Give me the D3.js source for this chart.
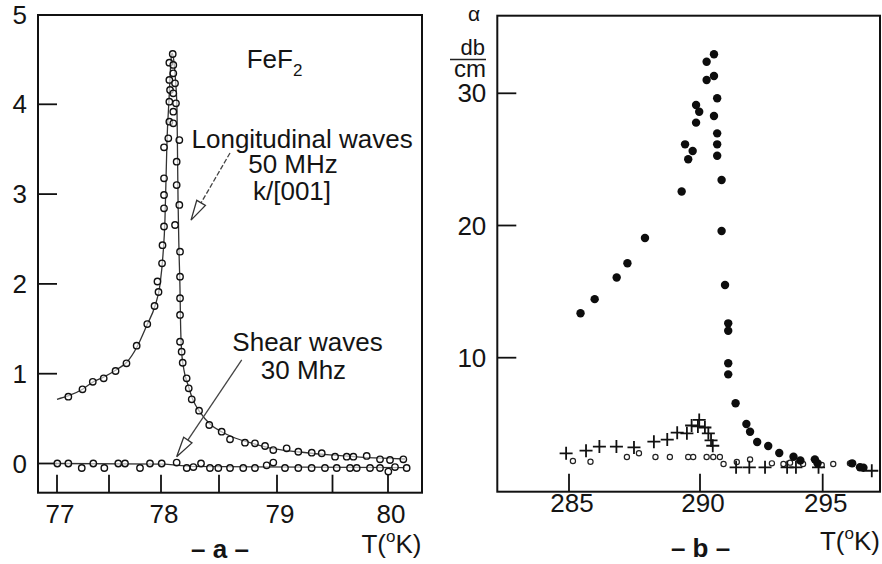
<!DOCTYPE html>
<html>
<head>
<meta charset="utf-8">
<script src="https://cdn.jsdelivr.net/npm/d3@7"></script>
<style>
  body { margin: 0; background: #fff; }
  text { font-family: "Liberation Sans", Arial, sans-serif; fill: #141414; }
</style>
</head>
<body>
<div id="chart"></div>
<script>
// ---- panel a : FeF2 ----
var aTicksX = [77, 78, 79, 80];
var aMinorX = [77.5, 78.5, 79.5];
var aTicksY = [0, 1, 2, 3, 4, 5];

// longitudinal waves, measured points (T, alpha)
var longT = [77.109, 77.245, 77.344, 77.449, 77.563, 77.668, 77.766, 77.868, 77.938, 77.976,
  77.966, 78.009, 78.013, 78.026, 78.026, 78.026, 78.026, 78.026, 78.063, 78.072,
  78.072, 78.078, 78.072, 78.072, 78.101, 78.106, 78.106, 78.121, 78.106, 78.129,
  78.106, 78.106, 78.158, 78.135, 78.135, 78.158, 78.121, 78.164, 78.164, 78.164,
  78.164, 78.164, 78.178, 78.187, 78.221, 78.239, 78.265, 78.328, 78.416, 78.523,
  78.595, 78.724, 78.810, 78.897, 78.968, 79.087, 79.192, 79.313, 79.403, 79.523,
  79.628, 79.688, 79.808, 79.928, 80.018, 80.138];
var longA = [0.744, 0.826, 0.910, 0.949, 1.030, 1.116, 1.312, 1.553, 1.754, 1.910,
  2.027, 2.229, 2.431, 2.639, 2.842, 2.990, 3.176, 3.521, 3.621, 3.806,
  4.029, 4.159, 4.271, 4.463, 4.560, 4.438, 4.345, 4.234, 4.122, 4.011,
  3.918, 3.788, 3.602, 3.361, 3.101, 2.879, 2.656, 2.359, 2.080, 1.840,
  1.654, 1.356, 1.245, 1.122, 0.949, 0.837, 0.715, 0.588, 0.429, 0.354,
  0.269, 0.232, 0.225, 0.195, 0.150, 0.169, 0.131, 0.120, 0.114, 0.076,
  0.076, 0.076, 0.084, 0.047, 0.039, 0.047];

// longitudinal waves, drawn curve
var longFitT = [77.0, 77.106, 77.25, 77.346, 77.452, 77.567, 77.673, 77.769, 77.865, 77.942,
  77.99, 78.017, 78.034, 78.043, 78.052, 78.069, 78.086, 78.095, 78.112, 78.125,
  78.138, 78.142, 78.147, 78.155, 78.164, 78.168, 78.177, 78.198, 78.233, 78.276,
  78.336, 78.422, 78.526, 78.638, 78.81, 78.983, 79.207, 79.477, 79.748, 80.018, 80.153];
var longFitA = [0.715, 0.752, 0.83, 0.908, 0.964, 1.042, 1.13, 1.297, 1.542, 1.754,
  1.988, 2.322, 2.71, 3.157, 3.6, 4.048, 4.49, 4.57, 4.47, 4.27,
  3.94, 3.49, 2.93, 2.38, 1.93, 1.60, 1.26, 1.04, 0.874, 0.707,
  0.573, 0.44, 0.351, 0.284, 0.217, 0.162, 0.128, 0.095, 0.072, 0.056, 0.05];

// shear waves, measured points
var shearT = [77.003, 77.109, 77.238, 77.349, 77.455, 77.589, 77.654, 77.798, 77.894, 78.006,
  78.135, 78.222, 78.279, 78.345, 78.422, 78.494, 78.595, 78.709, 78.810, 78.911,
  78.968, 79.072, 79.192, 79.312, 79.432, 79.538, 79.658, 79.718, 79.838, 79.928,
  80.003, 80.063, 80.168];
var shearA = [0.00, 0.00, -0.05, 0.00, -0.05, 0.00, 0.00, -0.05, 0.00, 0.00,
  0.01, -0.05, -0.04, 0.00, -0.05, -0.05, -0.05, -0.05, -0.05, -0.02,
  0.01, -0.05, -0.05, -0.05, -0.05, -0.05, -0.05, -0.05, -0.05, -0.05,
  -0.09, -0.04, -0.05];
var shearFitT = [77.0, 78.034, 78.25, 80.153];
var shearFitA = [0.0, -0.006, -0.033, -0.045];

// ---- panel b ----
var bTicksX = [285, 290, 295];
var bTicksY = [10, 20, 30];

var dotT = [290.57, 290.27, 290.57, 290.27, 290.70, 289.85, 289.97, 290.57, 289.85, 290.70,
  289.43, 290.70, 289.72, 289.55, 290.70, 290.88, 289.30, 290.88, 287.90, 287.23,
  286.82, 285.98, 285.44, 291.02, 291.15, 291.15, 291.15, 291.15, 291.45, 291.89,
  292.04, 292.33, 292.78, 293.23, 293.81, 294.09, 294.68, 294.79, 296.20, 296.52, 296.66];
var dotA = [32.95, 32.39, 31.31, 31.01, 29.62, 29.11, 28.61, 28.28, 27.78, 26.97,
  26.14, 26.14, 25.64, 25.01, 25.28, 23.44, 22.57, 19.58, 19.05, 17.14,
  16.07, 14.43, 13.36, 15.50, 12.60, 12.04, 9.58, 8.74, 6.55, 4.98,
  4.40, 3.62, 3.32, 2.79, 2.51, 2.22, 2.31, 2.01, 2.01, 1.71, 1.67];

var crossT = [284.89, 285.65, 286.16, 286.81, 287.48, 288.24, 288.75, 289.13, 289.50, 289.68,
  289.97, 289.92, 290.20, 290.34, 290.45, 290.52, 291.47, 292.01, 292.65, 293.55,
  293.91, 294.83, 297.0];
var crossA = [2.77, 2.97, 3.28, 3.28, 3.21, 3.65, 3.81, 4.33, 4.28, 4.87,
  5.29, 4.80, 4.72, 4.28, 3.74, 3.34, 1.71, 1.71, 1.71, 1.71,
  1.71, 1.71, 1.45];

var ringT = [285.15, 285.82, 287.21, 287.67, 288.30, 288.85, 289.55, 289.74, 290.27, 290.54,
  290.81, 290.96, 291.50, 292.04, 292.93, 293.40, 293.67, 294.20, 294.96, 295.43, 296.11];
var ringA = [2.19, 2.13, 2.49, 2.77, 2.49, 2.49, 2.49, 2.49, 2.49, 2.49,
  2.49, 1.96, 2.11, 2.30, 2.01, 1.96, 2.06, 1.96, 1.88, 1.96, 2.01];

var svg = d3.select("#chart").append("svg")
  .attr("width", 882)
  .attr("height", 564);

// hand drawn axes are not quite even, so the scales are piecewise
var xa = d3.scaleLinear().domain([77, 78, 79, 80]).range([57, 161, 277, 388]);
var ya = d3.scaleLinear().domain([0, 5]).range([463.5, 14.5]);
var xb = d3.scaleLinear().domain([285, 290, 295]).range([569, 700, 822.7]);
var yb = d3.scaleLinear().domain([0, 30]).range([489.9, 93.3]);

var boxA = {x0: 38, x1: 422, y0: 15, y1: 492.7};
var boxB = {x0: 497.3, x1: 880, y0: 15.7, y1: 491.7};

function frame(b) {
  svg.append("rect")
    .attr("x", b.x0).attr("y", b.y0)
    .attr("width", b.x1 - b.x0).attr("height", b.y1 - b.y0)
    .attr("fill", "none").attr("stroke", "#111").attr("stroke-width", 2);
}

function ticks(b, x, y, xt, yt, labX, labY, xlabDy) {
  svg.selectAll(null).data(xt).enter().append("line")
    .attr("x1", x).attr("x2", x)
    .attr("y1", b.y1).attr("y2", b.y1 - 18)
    .attr("stroke", "#111").attr("stroke-width", 1.8);
  svg.selectAll(null).data(yt).enter().append("line")
    .attr("x1", b.x0).attr("x2", b.x0 + 19)
    .attr("y1", y).attr("y2", y)
    .attr("stroke", "#111").attr("stroke-width", 1.8);
  svg.selectAll(null).data(labX).enter().append("text")
    .attr("x", d => x(d) + 3).attr("y", b.y1 + xlabDy)
    .attr("text-anchor", "middle")
    .style("font-size", "26px")
    .text(d => d);
  svg.selectAll(null).data(labY).enter().append("text")
    .attr("x", b.x0 - 11).attr("y", d => y(d) + 9)
    .attr("text-anchor", "end")
    .style("font-size", "26px")
    .text(d => d);
}

function arrow(x1, y1, x2, y2, dash) {
  var dx = x2 - x1, dy = y2 - y1, len = Math.sqrt(dx * dx + dy * dy);
  var ux = dx / len, uy = dy / len, nx = -uy, ny = ux;
  svg.append("line")
    .attr("x1", x1).attr("y1", y1).attr("x2", x2 - ux * 4).attr("y2", y2 - uy * 4)
    .attr("stroke", "#444").attr("stroke-width", 1.3)
    .attr("stroke-dasharray", dash ? "5,2" : null);
  var bx = x2 - ux * 20, by = y2 - uy * 20;
  svg.append("path")
    .attr("d", "M" + x2 + "," + y2 + "L" + (bx + nx * 5) + "," + (by + ny * 5) +
      "L" + (bx - nx * 5) + "," + (by - ny * 5) + "Z")
    .attr("fill", "#fff").attr("stroke", "#333").attr("stroke-width", 1.3);
}

// ---------- panel a ----------
frame(boxA);
ticks(boxA, xa, ya, aTicksX.concat(aMinorX), [0, 1, 2, 3, 4], aTicksX, aTicksY, 30);

var lineA = d3.line().x(d => xa(d[0])).y(d => ya(d[1])).curve(d3.curveMonotoneX);

svg.append("path")
  .datum(longFitT.map((t, i) => [t, longFitA[i]]))
  .attr("d", lineA)
  .attr("fill", "none").attr("stroke", "#333").attr("stroke-width", 1.3);

svg.append("path")
  .datum(shearFitT.map((t, i) => [t, shearFitA[i]]))
  .attr("d", d3.line().x(d => xa(d[0])).y(d => ya(d[1])))
  .attr("fill", "none").attr("stroke", "#333").attr("stroke-width", 1.3);

svg.selectAll(null)
  .data(longT.map((t, i) => [t, longA[i]]).concat(shearT.map((t, i) => [t, shearA[i]])))
  .enter().append("circle")
  .attr("cx", d => xa(d[0])).attr("cy", d => ya(d[1]))
  .attr("r", 3.2)
  .attr("fill", "#fff").attr("fill-opacity", 0.6)
  .attr("stroke", "#111").attr("stroke-width", 1.4);

arrow(xa(78.595), ya(3.458), xa(78.259), ya(2.71), true);
arrow(xa(78.696), ya(1.153), xa(78.135), ya(0.076), false);

var fef = svg.append("text").attr("x", 246.7).attr("y", 68).style("font-size", "26px");
fef.append("tspan").text("FeF");
fef.append("tspan").attr("dy", 8).style("font-size", "17px").text("2");

svg.append("text").attr("x", 191.5).attr("y", 148).style("font-size", "26px")
  .text("Longitudinal waves");
svg.append("text").attr("x", 293).attr("y", 173).attr("text-anchor", "middle")
  .style("font-size", "26px").text("50 MHz");
svg.append("text").attr("x", 292).attr("y", 200).attr("text-anchor", "middle")
  .style("font-size", "26px").text("k/[001]");
svg.append("text").attr("x", 307.5).attr("y", 351).attr("text-anchor", "middle")
  .style("font-size", "26px").text("Shear waves");
svg.append("text").attr("x", 303.5).attr("y", 378.5).attr("text-anchor", "middle")
  .style("font-size", "26px").text("30 Mhz");

function tLabel(xEnd, yBase) {
  var t = svg.append("text").attr("x", xEnd).attr("y", yBase)
    .attr("text-anchor", "end").style("font-size", "26px");
  t.append("tspan").text("T(");
  t.append("tspan").attr("dy", -11).style("font-size", "17px").text("o");
  t.append("tspan").attr("dy", 11).text("K)");
}
tLabel(421.5, 553);

svg.append("text").attr("x", 220).attr("y", 558).attr("text-anchor", "middle")
  .style("font-size", "26px").style("font-weight", "bold").text("\u2013 a \u2013");

// ---------- panel b ----------
frame(boxB);
ticks(boxB, xb, yb, bTicksX, bTicksY, bTicksX, bTicksY, 20);

svg.selectAll(null)
  .data(ringT.map((t, i) => [t, ringA[i]]))
  .enter().append("circle")
  .attr("cx", d => xb(d[0])).attr("cy", d => yb(d[1]))
  .attr("r", 2.6)
  .attr("fill", "#fff").attr("stroke", "#222").attr("stroke-width", 1.2);

svg.selectAll(null)
  .data(crossT.map((t, i) => [t, crossA[i]]))
  .enter().append("path")
  .attr("d", d => {
    var x = xb(d[0]), y = yb(d[1]);
    return "M" + (x - 6.5) + "," + y + "H" + (x + 6.5) + "M" + x + "," + (y - 6.5) + "V" + (y + 6.5);
  })
  .attr("fill", "none").attr("stroke", "#111").attr("stroke-width", 1.8);

svg.selectAll(null)
  .data(dotT.map((t, i) => [t, dotA[i]]))
  .enter().append("circle")
  .attr("cx", d => xb(d[0])).attr("cy", d => yb(d[1]))
  .attr("r", 4.2)
  .attr("fill", "#0d0d0d");

svg.append("text").attr("x", 474).attr("y", 21).attr("text-anchor", "middle")
  .style("font-size", "21px").text("\u03b1");
svg.append("text").attr("x", 485).attr("y", 55).attr("text-anchor", "end")
  .style("font-size", "22px").text("db");
svg.append("line").attr("x1", 450).attr("x2", 486).attr("y1", 59.5).attr("y2", 59.5)
  .attr("stroke", "#222").attr("stroke-width", 1.5);
svg.append("text").attr("x", 486).attr("y", 77).attr("text-anchor", "end")
  .style("font-size", "24px").text("cm");

tLabel(880, 550);

svg.append("text").attr("x", 700.5).attr("y", 557).attr("text-anchor", "middle")
  .style("font-size", "26px").style("font-weight", "bold").text("\u2013 b \u2013");
</script>
</body>
</html>
